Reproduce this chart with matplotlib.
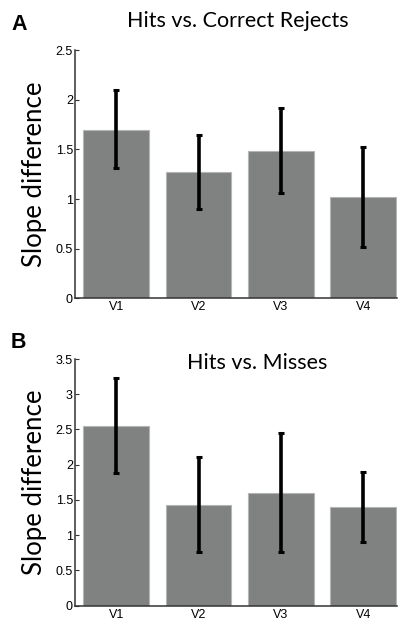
import matplotlib
matplotlib.use('Agg')
import matplotlib.pyplot as plt
import numpy as np

AREAS = ["V1", "V2", "V3", "V4"]

# Hits vs. Correct Rejects
CR_MEAN = [1.70, 1.27, 1.485, 1.02]
CR_LOW = [1.31, 0.90, 1.06, 0.52]
CR_HIGH = [2.10, 1.64, 1.92, 1.52]

# Hits vs. Misses
MISS_MEAN = [2.55, 1.43, 1.60, 1.40]
MISS_LOW = [1.88, 0.76, 0.76, 0.91]
MISS_HIGH = [3.23, 2.11, 2.45, 1.89]

BAR_COLOR = '#7f8280'
TITLE_FONT = 'Lato'
TICK_FONT = 'Liberation Sans'


def draw_panel(ax, mean, low, high, ymax, yticks, title, title_xy, letter, letter_xy, fig):
    x = np.arange(len(AREAS))
    mean = np.array(mean)
    yerr = [mean - np.array(low), np.array(high) - mean]
    ax.bar(x, mean, width=0.8, color=BAR_COLOR, edgecolor='#b4b6b4', linewidth=0.8)
    ax.errorbar(x, mean, yerr=yerr, fmt='none', ecolor='black', elinewidth=2.6,
                capsize=2.5, capthick=2.2)
    ax.set_xlim(-0.5, 3.41)
    ax.set_ylim(0, ymax)
    ax.set_yticks(yticks)
    ax.set_yticklabels([f"{t:g}" for t in yticks], fontsize=9, family=TICK_FONT)
    ax.set_xticks(x)
    ax.set_xticklabels(AREAS, fontsize=9, family=TICK_FONT)
    ax.tick_params(axis='y', direction='in', length=3, width=0.8, pad=1.5, color='#333333')
    ax.tick_params(axis='x', length=0, pad=2)
    for side in ['top', 'right']:
        ax.spines[side].set_visible(False)
    for side in ['left', 'bottom']:
        ax.spines[side].set_linewidth(1.1)
        ax.spines[side].set_color('#333333')
    ax.set_ylabel("Slope difference", fontsize=18.5, family=TITLE_FONT, labelpad=6)
    fig.text(title_xy[0], title_xy[1], title, fontsize=15.5, family=TITLE_FONT,
             ha='center', va='center')
    fig.text(letter_xy[0], letter_xy[1], letter, fontsize=15.5, weight='bold',
             family=TICK_FONT, ha='center', va='center')


fig = plt.figure(figsize=(4.02, 6.21), dpi=100)
ax1 = fig.add_axes([0.1866, 0.5196, 0.8010, 0.3998])
ax2 = fig.add_axes([0.1866, 0.0246, 0.8010, 0.3973])

draw_panel(ax1, CR_MEAN, CR_LOW, CR_HIGH, 2.5, [0, 0.5, 1, 1.5, 2, 2.5],
           "Hits vs. Correct Rejects", (238 / 402, 1 - 21 / 621), "A", (19 / 402, 1 - 24 / 621), fig)
draw_panel(ax2, MISS_MEAN, MISS_LOW, MISS_HIGH, 3.5, [0, 0.5, 1, 1.5, 2, 2.5, 3, 3.5],
           "Hits vs. Misses", (257 / 402, 1 - 363 / 621), "B", (18 / 402, 1 - 342 / 621), fig)

plt.savefig("out.png", dpi=100)
plt.close()
